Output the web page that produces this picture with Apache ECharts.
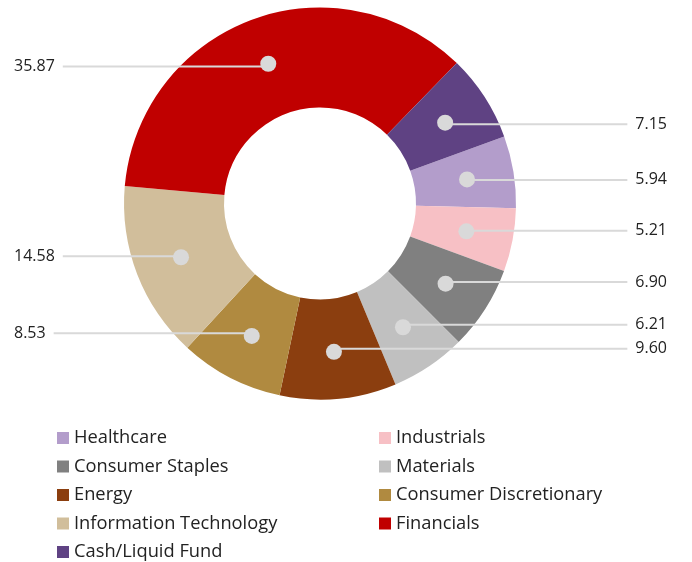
<!DOCTYPE html>
<html><head><meta charset="utf-8">
<script src="https://cdn.jsdelivr.net/npm/echarts@6/dist/echarts.min.js"></script>
<style>html,body{margin:0;padding:0;background:#fff}#c{width:692px;height:562px}</style>
</head><body><div id="c"></div>
<script>
const categories = ['Healthcare','Industrials','Consumer Staples','Materials','Energy','Consumer Discretionary','Information Technology','Financials','Cash/Liquid Fund'];
const weights = [5.94, 5.21, 6.90, 6.21, 9.60, 8.53, 14.58, 35.87, 7.15];
const colors = ['#b39dcb','#f7c0c5','#808080','#c0c0c0','#8b3e0f','#b08a40','#d1be9b','#c00000','#5f4283'];

const data = categories.map((n, i) => ({ name: n, value: weights[i] }));
const leftNames = categories.filter((n, i) => i % 2 === 0);
const rightNames = categories.filter((n, i) => i % 2 === 1);

const CENTER = [320, 203.5];
const START = 20;
const legendText = { fontFamily: 'Open Sans', fontSize: 18.3, color: '#222' };
const legendBase = { top: 429, height: 150, padding: 0, orient: 'vertical', icon: 'rect', itemWidth: 12,
  itemHeight: 12, itemGap: 10.5, selectedMode: false, textStyle: legendText };

const chart = echarts.init(document.getElementById('c'), null, { renderer: 'canvas' });
chart.setOption({
  animation: false,
  color: colors,
  legend: [
    Object.assign({ data: leftNames, left: 57 }, legendBase),
    Object.assign({ data: rightNames, left: 379 }, legendBase)
  ],
  series: [
    {
      type: 'pie', name: 'main', center: CENTER, radius: [96, 196], startAngle: START, clockwise: true,
      avoidLabelOverlap: false, silent: true, z: 2,
      label: { show: false }, labelLine: { show: false },
      itemStyle: { borderWidth: 0 }, emphasis: { disabled: true }, data
    },
    {
      type: 'pie', name: 'labels', left: 0, top: 0, width: 681, height: 562, center: CENTER,
      radius: [0, 146], startAngle: START, clockwise: true, silent: true, z: 3,
      itemStyle: { color: 'rgba(0,0,0,0)', borderWidth: 0 },
      label: { show: true, position: 'outside', alignTo: 'edge', edgeDistance: 14, distanceToLabelLine: 8,
        formatter: p => p.value.toFixed(2), fontFamily: 'Open Sans', fontSize: 16, lineHeight: 16, color: '#222' },
      labelLine: { show: true, length: 0, length2: 20, lineStyle: { color: '#d9d9d9', width: 2 } },
      emphasis: { disabled: true }, data
    },
    {
      type: 'pie', name: 'dots', center: CENTER, radius: [96, 196], startAngle: START, clockwise: true,
      avoidLabelOverlap: false, silent: true, z: 4,
      itemStyle: { color: 'rgba(0,0,0,0)', borderWidth: 0 },
      label: { show: true, position: 'inside', formatter: '{d|}',
        rich: { d: { width: 16, height: 16, borderRadius: 8, backgroundColor: '#d9d9d9' } } },
      labelLine: { show: false }, emphasis: { disabled: true }, data
    }
  ]
});
</script></body></html>
